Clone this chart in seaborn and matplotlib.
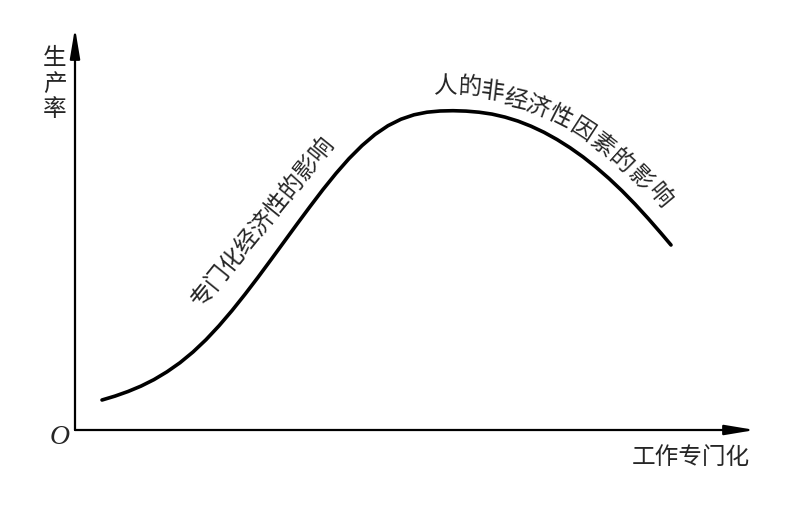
import matplotlib
matplotlib.use("Agg")
import matplotlib.pyplot as plt
import seaborn as sns
import pandas as pd

# specialization (x) vs productivity (y), arbitrary units
specialization = [27, 40, 53, 66, 79, 92, 105, 118, 131, 144, 157, 170, 183, 196,
                  209, 222, 235, 248, 261, 274, 287, 300, 313, 326, 339, 352, 365,
                  378, 391, 404, 417, 430, 443, 456, 469, 482, 495, 508, 521, 534,
                  547, 560, 573, 586, 596]
productivity = [30.0, 33.9, 38.5, 43.9, 50.4, 58.2, 67.3, 78.0, 90.3, 104.2, 119.4,
                135.7, 152.7, 170.3, 188.1, 205.9, 223.4, 240.5, 256.6, 271.4, 284.4,
                295.5, 304.3, 310.8, 315.2, 317.8, 319.0, 319.3, 318.9, 317.8, 315.9,
                312.9, 308.9, 303.8, 297.7, 290.5, 282.3, 273.1, 262.8, 251.5, 239.2,
                225.9, 211.7, 196.8, 185.0]

x_label = "工作专门化"
y_label = "生产率"
rise_label = "专门化经济性的影响"
fall_label = "人的非经济性因素的影响"

# per-character placement of the curved label on the falling side
fall_x = [371, 395, 417, 440, 462, 485, 507, 527, 546, 565, 584]
fall_y = [343, 342, 338, 330, 323, 313, 300, 284, 268, 251, 234]
fall_rot = [0, -3, -7, -13, -20, -27, -33, -38, -42, -46, -50]

df = pd.DataFrame({"x": specialization, "y": productivity})

sns.set_theme(style="white")
plt.rcParams["font.family"] = ["Noto Sans CJK SC", "DejaVu Sans"]

fig = plt.figure(figsize=(7.97, 5.16), dpi=100)
ax = fig.add_axes([75 / 797, 86 / 516, 680 / 797, 400 / 516])

sns.lineplot(data=df, x="x", y="y", sort=False, color="black", linewidth=2.6, ax=ax)
ax.lines[0].set_solid_joinstyle("round")
ax.lines[0].set_solid_capstyle("round")

ax.set_xlim(0, 680)
ax.set_ylim(0, 400)
ax.set_xticks([])
ax.set_yticks([])
ax.set_xlabel("")
ax.set_ylabel("")
for s in ["top", "right", "left", "bottom"]:
    ax.spines[s].set_visible(False)

# axes with arrow heads
arrow = dict(arrowstyle="-|>,head_length=0.9,head_width=0.15", lw=1.6,
             color="black", shrinkA=0, shrinkB=0, mutation_scale=20)
ax.annotate("", xy=(0, 1.005), xytext=(0, 0), xycoords="axes fraction",
            arrowprops=arrow, annotation_clip=False)
ax.annotate("", xy=(1.0, 0), xytext=(0, 0), xycoords="axes fraction",
            arrowprops=arrow, annotation_clip=False)

ax.text(-20, 346, "\n".join(y_label), fontsize=17, ha="center", va="center",
        linespacing=1.12, clip_on=False)
ax.text(616, -27, x_label, fontsize=17, ha="center", va="center", clip_on=False)
ax.text(-15, -7, "O", fontsize=20, ha="center", va="center", style="italic",
        family="Liberation Serif", clip_on=False)

ax.text(188, 208, rise_label, fontsize=17, rotation=51, ha="center", va="center",
        rotation_mode="anchor")

for ch, cx, cy, r in zip(fall_label, fall_x, fall_y, fall_rot):
    ax.text(cx, cy, ch, fontsize=17, rotation=r, ha="center", va="center",
            rotation_mode="anchor")

fig.savefig("out.png", dpi=100, facecolor="white")
plt.close(fig)
